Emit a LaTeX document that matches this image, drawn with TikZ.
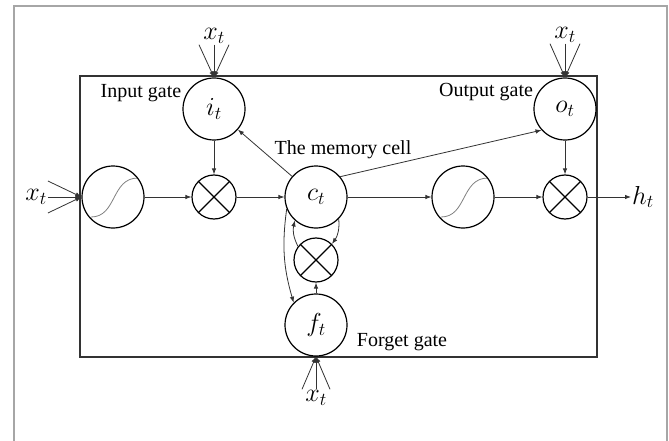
\documentclass[tikz,border=0pt]{standalone}
\usepackage{fix-cm}
\usepackage{fontspec}
\setmainfont{Liberation Serif}
\usetikzlibrary{arrows.meta}
\begin{document}
\begin{tikzpicture}[x=1pt,y=-1pt,>={Latex[length=6pt,width=4.5pt]},
    lbl/.style={font=\fontsize{20}{24}\selectfont},
    var/.style={font=\fontsize{26}{29}\selectfont,inner sep=1pt},
    gate/.style={circle,draw,line width=1.2pt,minimum size=62pt,inner sep=0pt,font=\fontsize{26}{29}\selectfont},
    mult/.style={circle,draw,line width=1.2pt,minimum size=44pt,inner sep=0pt,
      path picture={\draw[line width=1.2pt] (path picture bounding box.north west)--(path picture bounding box.south east)
        (path picture bounding box.north east)--(path picture bounding box.south west);}},
    sigm/.style={gate,path picture={\draw[gray,line width=0.8pt,shift={(path picture bounding box.center)}]
        (-22,20) .. controls (4,20) and (-2,-19) .. (25,-19);}},
    flow/.style={->,line width=0.8pt,draw=black!80}]
    \useasboundingbox (0,0) rectangle (669,441);
    % frame and cell box
    \draw[gray!70,line width=1.5pt] (14,445) -- (14,6) -- (667,6) -- (667,445);
    \draw[black!80,line width=1.4pt] (80,76) rectangle (597,357);
    % units
    \node[sigm] (sl) at (113,197) {};
    \node[mult] (mi) at (214,197) {};
    \node[gate] (ct) at (316,197) {$c_t$};
    \node[sigm] (sr) at (463,197) {};
    \node[mult] (mo) at (565,197) {};
    \node[gate] (it) at (214,109) {$i_t$};
    \node[gate] (ot) at (565,109) {$o_t$};
    \node[mult] (mf) at (316,260) {};
    \node[gate] (ft) at (316,325) {$f_t$};
    % inputs and output
    \node[var] (xi) at (214,36) {$x_t$};
    \node[var] (xo) at (565,35) {$x_t$};
    \node[var] (xl) at (36,197) {$x_t$};
    \node[var] (xf) at (316,398) {$x_t$};
    \node[var] (ht) at (643,197) {$h_t$};
    \node[lbl] at (141,93) {Input gate};
    \node[lbl] at (486,92) {Output gate};
    \node[lbl] at (343,150) {The memory cell};
    \node[lbl] at (402,342) {Forget gate};
    \foreach \g/\x in {it/xi,ot/xo}{
      \foreach \d in {-15,0,15}
        \draw[flow] ([xshift=\d pt]\x.south) -- (\g.north);
    }
    \foreach \d in {-16,0,16}
      \draw[flow] ([yshift=\d pt]xl.east) -- (sl.west);
    \foreach \d in {-14,0,14}
      \draw[flow] ([xshift=\d pt]xf.north) -- (ft.south);
    % connections
    \draw[flow] (sl) -- (mi);
    \draw[flow] (mi) -- (ct);
    \draw[flow] (ct) -- (sr);
    \draw[flow] (sr) -- (mo);
    \draw[flow] (mo) -- (ht);
    \draw[flow] (it) -- (mi);
    \draw[flow] (ot) -- (mo);
    \draw[flow] (ct) -- (it);
    \draw[flow] (ct.40) -- (ot.222);
    \draw[flow] (ft) -- (mf);
    \draw[flow] (ct.202) to[bend right=12] (ft.135);
    \draw[flow] (mf.143) to[bend left=20] (ct.228);
    \draw[flow] (ct.316) to[bend left=20] (mf.45);
\end{tikzpicture}
\end{document}
